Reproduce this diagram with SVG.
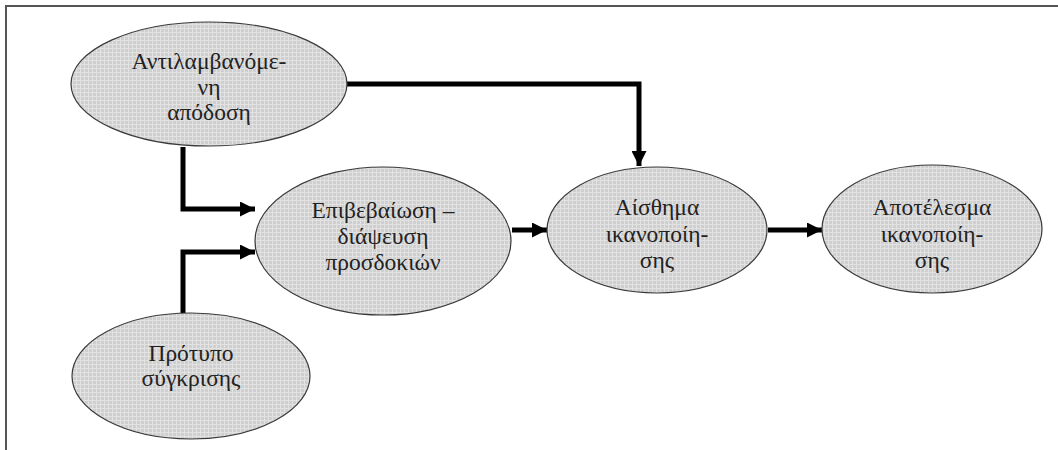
<svg xmlns="http://www.w3.org/2000/svg" width="1058" height="450" viewBox="0 0 1058 450">
  <style>
    .node ellipse { fill: url(#grid); stroke: #3a3a3a; stroke-width: 1.2; }
    .node text { font-family: "Liberation Serif", "DejaVu Serif", serif; font-size: 23.5px; fill: #222; text-anchor: middle; }
    .conn { fill: none; stroke: #000; stroke-width: 5; stroke-linejoin: miter; }
  </style>
  <defs>
    <pattern id="grid" width="4" height="4" patternUnits="userSpaceOnUse">
      <rect width="4" height="4" fill="#cfcfcf"/>
      <path d="M0 0.5H4M0.5 0V4" stroke="#e2e2e2" stroke-width="1"/>
    </pattern>
    <marker id="arrow" viewBox="0 0 10 10" refX="10" refY="5" markerWidth="3" markerHeight="3" orient="auto" markerUnits="strokeWidth">
      <path d="M0 0L10 5L0 10Z" fill="#000"/>
    </marker>
  </defs>
  <rect width="1058" height="450" fill="#fff"/>
  <path d="M6 450V6H1058" fill="none" stroke="#555" stroke-width="2"/>

  <g id="connectors">
    <path class="conn" d="M347 84H639V166" marker-end="url(#arrow)"/>
    <path class="conn" d="M183 147V209H255" marker-end="url(#arrow)"/>
    <path class="conn" d="M183 313V252H255" marker-end="url(#arrow)"/>
    <path class="conn" d="M512 230H547" marker-end="url(#arrow)"/>
    <path class="conn" d="M768 230H822" marker-end="url(#arrow)"/>
  </g>

  <g id="node-perceived" class="node">
    <ellipse cx="209" cy="84" rx="138" ry="62"/>
    <text x="209" y="69">Αντιλαμβανόμε-</text>
    <text x="209" y="95">νη</text>
    <text x="209" y="120">απόδοση</text>
  </g>
  <g id="node-confirmation" class="node">
    <ellipse cx="383" cy="241" rx="128" ry="74"/>
    <text x="383" y="218">Επιβεβαίωση –</text>
    <text x="383" y="244">διάψευση</text>
    <text x="383" y="270">προσδοκιών</text>
  </g>
  <g id="node-feeling" class="node">
    <ellipse cx="657" cy="230" rx="110" ry="63"/>
    <text x="657" y="215">Αίσθημα</text>
    <text x="657" y="242">ικανοποίη-</text>
    <text x="657" y="268">σης</text>
  </g>
  <g id="node-outcome" class="node">
    <ellipse cx="932" cy="229" rx="110" ry="64"/>
    <text x="932" y="215">Αποτέλεσμα</text>
    <text x="932" y="242">ικανοποίη-</text>
    <text x="932" y="268">σης</text>
  </g>
  <g id="node-standard" class="node">
    <ellipse cx="191" cy="376" rx="119" ry="63"/>
    <text x="191" y="361">Πρότυπο</text>
    <text x="191" y="386">σύγκρισης</text>
  </g>
</svg>
